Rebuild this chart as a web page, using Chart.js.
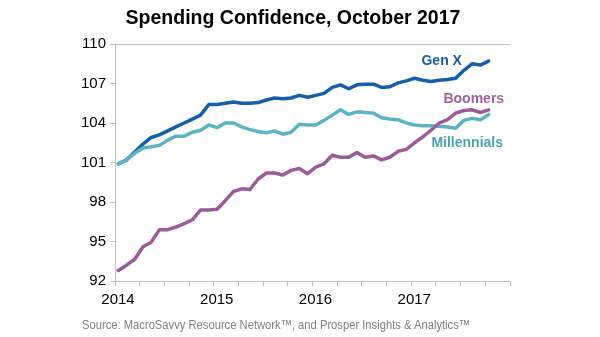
<!DOCTYPE html>
<html>
<head>
<meta charset="utf-8">
<script src="https://cdn.jsdelivr.net/npm/chart.js@4.4.1/dist/chart.umd.min.js"></script>
<style>
  html, body { margin: 0; padding: 0; background: #fff; }
  #wrap { position: relative; width: 600px; height: 337px; }
  #title {
    position: absolute; left: 0; top: 6px; width: 586px; text-align: center;
    font-family: "Liberation Sans", Arial, sans-serif; font-size: 19.5px; font-weight: bold;
    line-height: 23px; color: #000; white-space: nowrap;
  }
  #source {
    position: absolute; left: 82px; top: 317px;
    font-family: "Liberation Sans", Arial, sans-serif; font-size: 13px;
    color: #7f7f7f; white-space: nowrap; transform-origin: 0 0;
  }
</style>
</head>
<body>
<div id="wrap">
  <canvas id="chart" width="600" height="337"></canvas>
  <div id="title">Spending Confidence, October 2017</div>
  <div id="source">Source: MacroSavvy Resource Network™, and Prosper Insights &amp; Analytics™</div>
</div>
<script>
// Spending Confidence by generation, monthly Jan 2014 - Oct 2017

const yearLabels = ['2014', '2015', '2016', '2017'];

// months since Jan 2014 (0 = Jan 2014 ... 45 = Oct 2017)
const months = [
   0,  1,  2,  3,  4,  5,  6,  7,  8,  9, 10, 11,
  12, 13, 14, 15, 16, 17, 18, 19, 20, 21, 22, 23,
  24, 25, 26, 27, 28, 29, 30, 31, 32, 33, 34, 35,
  36, 37, 38, 39, 40, 41, 42, 43, 44, 45
];

const genX = [
  100.9, 101.2, 101.8, 102.4, 102.9, 103.1, 103.4, 103.7, 104.0, 104.3, 104.6, 105.4,
  105.4, 105.5, 105.6, 105.5, 105.5, 105.55, 105.75, 105.9, 105.85, 105.9, 106.1, 105.95,
  106.1, 106.25, 106.7, 106.9, 106.6, 106.9, 106.95, 106.95, 106.7, 106.75, 107.05, 107.2,
  107.4, 107.25, 107.15, 107.25, 107.3, 107.4, 108.0, 108.5, 108.4, 108.7
];

const millennials = [
  100.9, 101.2, 101.7, 102.1, 102.2, 102.3, 102.7, 103.0, 103.0, 103.3, 103.45, 103.85,
  103.65, 104.0, 104.0, 103.7, 103.5, 103.35, 103.25, 103.4, 103.15, 103.3, 103.9, 103.85,
  103.85, 104.2, 104.6, 105.0, 104.65, 104.85, 104.8, 104.75, 104.4, 104.3, 104.25, 104.0,
  103.85, 103.8, 103.8, 103.75, 103.7, 103.6, 104.2, 104.35, 104.25, 104.65
];

const boomers = [
  92.8, 93.2, 93.65, 94.6, 94.95, 95.9, 95.9, 96.1, 96.35, 96.65, 97.4, 97.4,
  97.45, 98.1, 98.8, 99.0, 98.95, 99.75, 100.2, 100.2, 100.05, 100.4, 100.55, 100.15,
  100.65, 100.9, 101.55, 101.4, 101.4, 101.75, 101.4, 101.5, 101.2, 101.4, 101.85, 102.0,
  102.5, 102.95, 103.45, 104.0, 104.25, 104.75, 104.95, 105.0, 104.8, 105.0
];

// series name labels: text, month position, value position, colour
const seriesLabels = [
  { text: 'Gen X',       month: 39.7, value: 108.7,  color: '#1b5c9f' },
  { text: 'Boomers',     month: 43.6, value: 105.85, color: '#a0609d' },
  { text: 'Millennials', month: 42.8, value: 102.5,  color: '#4ba3b3' }
];

// points are plotted mid-month, between the month ticks
function toPoints(values) {
  return values.map((v, i) => ({ x: months[i] + 0.4, y: v }));
}

const labelPlugin = {
  id: 'seriesLabels',
  afterDatasetsDraw(chart) {
    const { ctx, scales: { x, y } } = chart;
    ctx.save();
    ctx.font = 'bold 14px "Liberation Sans", Arial, sans-serif';
    ctx.textAlign = 'center';
    ctx.textBaseline = 'middle';
    seriesLabels.forEach(l => {
      ctx.fillStyle = l.color;
      ctx.fillText(l.text, x.getPixelForValue(l.month), y.getPixelForValue(l.value));
    });
    ctx.restore();
  }
};

const axisGrey = '#bfbfbf';

new Chart(document.getElementById('chart').getContext('2d'), {
  type: 'line',
  data: {
    datasets: [
      { label: 'Boomers', data: toPoints(boomers), borderColor: '#9b5a98', borderWidth: 3.5 },
      { label: 'Millennials', data: toPoints(millennials), borderColor: '#5db3c3', borderWidth: 3.5 },
      { label: 'Gen X', data: toPoints(genX), borderColor: '#165ea6', borderWidth: 3.5 }
    ]
  },
  options: {
    responsive: false,
    animation: false,
    elements: { point: { radius: 0 }, line: { tension: 0, borderCapStyle: 'round', borderJoinStyle: 'round' } },
    layout: { padding: { left: 0, right: 90, top: 44, bottom: 0 } },
    plugins: {
      legend: { display: false },
      tooltip: { enabled: false },
      title: { display: false }
    },
    scales: {
      x: {
        type: 'linear',
        min: 0,
        max: 48,
        afterBuildTicks(scale) {
          const t = [];
          for (let m = 0; m <= 48; m += 3) t.push({ value: m });
          scale.ticks = t;
        },
        afterFit(scale) { scale.height = 56; },
        ticks: {
          autoSkip: false,
          maxRotation: 0,
          color: '#000',
          padding: 5,
          labelOffset: 3,
          font: { family: '"Liberation Sans", Arial, sans-serif', size: 15 },
          callback: v => (v % 12 === 0 && v / 12 < yearLabels.length) ? yearLabels[v / 12] : ''
        },
        grid: { drawOnChartArea: false, tickLength: 5, color: axisGrey, tickColor: axisGrey },
        border: { display: true, color: axisGrey, width: 1 }
      },
      y: {
        min: 92,
        max: 110,
        afterFit(scale) { scale.width = 115; },
        ticks: {
          stepSize: 3,
          color: '#000',
          padding: 4,
          font: { family: '"Liberation Sans", Arial, sans-serif', size: 15 }
        },
        grid: {
          tickLength: 5,
          tickColor: axisGrey,
          color: c => c.tick && c.tick.value === 110 ? axisGrey : 'rgba(0,0,0,0)'
        },
        border: { display: true, color: axisGrey, width: 1 }
      }
    }
  },
  plugins: [labelPlugin]
});

// squeeze the source line to the width it has in the original
const src = document.getElementById('source');
src.style.transform = 'scaleX(' + (388 / src.getBoundingClientRect().width) + ')';
</script>
</body>
</html>
